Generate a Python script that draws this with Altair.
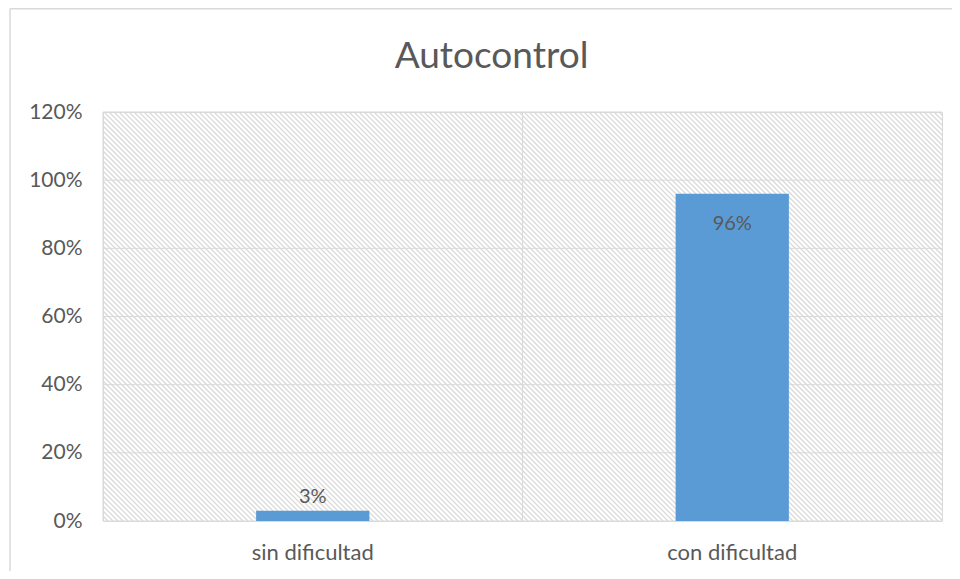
import altair as alt
import pandas as pd

# ---- data ----
categories = ["sin dificultad", "con dificultad"]
values = [0.03, 0.96]
y_ticks = [0.0, 0.2, 0.4, 0.6, 0.8, 1.0, 1.2]
title_text = "Autocontrol"

W, H = 839, 409
TEXT = "#595959"
GRID = "#d9d9d9"
BAR = "#5b9bd5"
FONT = "Lato"
PAD_R = 10

df = pd.DataFrame({"cat": categories, "pct": values})
grid_df = pd.DataFrame({"tick": y_ticks})
cat_df = pd.DataFrame({"cat": categories})

# ---- diagonal hatch of the plot background (style only): thin 45-degree lines ----
HATCH_STEP = 5
n_hatch = (W + H) // HATCH_STEP + 2

x_axis = alt.Axis(
    title=None, labelAngle=0, labelAlign="center", ticks=False, tickSize=0, domain=False,
    grid=False, labelFont=FONT, labelFontSize=22, labelColor=TEXT, labelPadding=21,
)
y_axis = alt.Axis(
    title=None, values=y_ticks, format=".0%", grid=False, ticks=False, tickSize=0,
    domain=False, labelFont=FONT, labelFontSize=21, labelColor=TEXT, labelPadding=21,
)
x_scale = alt.Scale(paddingInner=0, paddingOuter=0)
y_scale = alt.Scale(domain=[0, 1.2], nice=False, zero=True)

background = (
    alt.Chart(alt.sequence(0, n_hatch, as_="i"))
    .transform_calculate(hx=f"datum.i * {HATCH_STEP} - {H}")
    .transform_calculate(hx2=f"datum.hx + {H}")
    .mark_rule(color="#dadada", strokeWidth=1.3, clip=True)
    .encode(
        x=alt.X("hx:Q", scale=None, axis=None),
        x2="hx2:Q",
        y=alt.value(0),
        y2=alt.value(H),
    )
)

border_left = alt.Chart(alt.Data(values=[{}])).mark_rule(
    color=GRID, strokeWidth=1.5, clip=False
).encode(x=alt.value(-93), y=alt.value(-103.3), y2=alt.value(H + 50))

border_top = alt.Chart(alt.Data(values=[{}])).mark_rule(
    color=GRID, strokeWidth=1.5, clip=False
).encode(x=alt.value(-93), x2=alt.value(W + PAD_R), y=alt.value(-103.3))

grid_rules = alt.Chart(grid_df).mark_rule(color=GRID, strokeWidth=1).encode(
    y=alt.Y("tick:Q", scale=y_scale, axis=y_axis)
)

cat_rules = alt.Chart(cat_df).mark_rule(color=GRID, strokeWidth=1).encode(
    x=alt.X("cat:N", sort=categories, bandPosition=0, scale=x_scale, axis=x_axis),
    y=alt.value(0),
    y2=alt.value(H),
)

bars = alt.Chart(df).mark_bar(color=BAR, width=alt.RelativeBandSize(0.27)).encode(
    x=alt.X("cat:N", sort=categories, scale=x_scale, axis=x_axis),
    y=alt.Y("pct:Q", scale=y_scale, axis=y_axis),
)

label_out = alt.Chart(df).transform_filter("datum.pct < 0.5").mark_text(
    font=FONT, fontSize=20, color=TEXT, baseline="alphabetic", dy=-8
).encode(
    x=alt.X("cat:N", sort=categories, axis=x_axis),
    y=alt.Y("pct:Q", axis=y_axis),
    text=alt.Text("pct:Q", format=".0%"),
)

label_in = alt.Chart(df).transform_filter("datum.pct >= 0.5").mark_text(
    font=FONT, fontSize=20, color=TEXT, baseline="alphabetic", dy=36
).encode(
    x=alt.X("cat:N", sort=categories, axis=x_axis),
    y=alt.Y("pct:Q", axis=y_axis),
    text=alt.Text("pct:Q", format=".0%"),
)

chart = alt.layer(
    background, grid_rules, cat_rules, bars, label_out, label_in, border_left, border_top
).properties(
    width=W,
    height=H,
    title=alt.TitleParams(
        title_text, font=FONT, fontSize=37, fontWeight="normal", color=TEXT,
        anchor="middle", dx=-31, offset=-68,
    ),
    autosize=alt.AutoSizeParams(type="none"),
    padding={"left": 95, "top": 104, "right": PAD_R, "bottom": 50},
).configure_view(stroke=GRID, strokeWidth=1)

chart.save("out.html", embed_options={"renderer": "svg", "actions": False})
